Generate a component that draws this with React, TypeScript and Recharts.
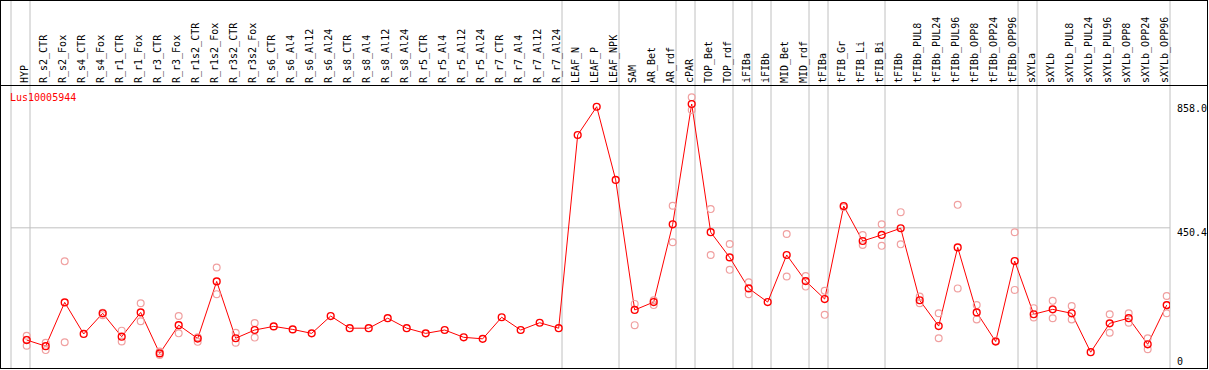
import React from "react";
import {
  ComposedChart,
  Line,
  Scatter,
  XAxis,
  YAxis,
  ReferenceLine,
} from "recharts";

const TITLE = "Lus10005944";

const categories = [
  "HYP",
  "R_s2_CTR", "R_s2_Fox", "R_s4_CTR", "R_s4_Fox", "R_r1_CTR", "R_r1_Fox",
  "R_r3_CTR", "R_r3_Fox", "R_r1s2_CTR", "R_r1s2_Fox", "R_r3s2_CTR", "R_r3s2_Fox",
  "R_s6_CTR", "R_s6_Al4", "R_s6_Al12", "R_s6_Al24",
  "R_s8_CTR", "R_s8_Al4", "R_s8_Al12", "R_s8_Al24",
  "R_r5_CTR", "R_r5_Al4", "R_r5_Al12", "R_r5_Al24",
  "R_r7_CTR", "R_r7_Al4", "R_r7_Al12", "R_r7_Al24",
  "LEAF_N", "LEAF_P", "LEAF_NPK",
  "SAM", "AR_Bet", "AR_rdf",
  "cPAR",
  "TOP_Bet", "TOP_rdf",
  "iFIBa", "iFIBb",
  "MID_Bet", "MID_rdf",
  "tFIBa",
  "tFIB_Gr", "tFIB_Li", "tFIB_Bi",
  "tFIBb", "tFIBb_PUL8", "tFIBb_PUL24", "tFIBb_PUL96", "tFIBb_OPP8", "tFIBb_OPP24", "tFIBb_OPP96",
  "sXYLa",
  "sXYLb", "sXYLb_PUL8", "sXYLb_PUL24", "sXYLb_PUL96", "sXYLb_OPP8", "sXYLb_OPP24", "sXYLb_OPP96",
];

// mean expression per sample
const means = [
  81, 61, 205, 101, 169, 92, 172, 37, 130, 86, 274, 87, 114,
  126, 116, 103, 160, 120, 120, 153, 120, 103, 114, 90, 85, 156, 114, 138, 120,
  756, 849, 608,
  180, 206, 462,
  858,
  436, 353,
  251, 206,
  361, 275,
  216,
  522, 407, 427,
  449, 212, 127, 386, 172, 76, 341,
  166,
  182, 169, 41, 136, 153, 67, 196,
];

// individual replicates
const replicates = [
  [95, 82, 62],
  [72, 48], [340, 74], [], [171, 163], [112, 76], [202, 143],
  [43, 32], [160, 103], [90, 75], [320, 232], [105, 72], [137, 89],
  [], [], [], [],
  [], [], [], [],
  [], [], [], [],
  [], [], [], [],
  [], [], [],
  [200, 130], [196, 212], [523, 403],
  [880, 838],
  [512, 361], [397, 312],
  [271, 232], [],
  [430, 290], [292, 257],
  [243, 164],
  [518], [427, 394], [462, 391],
  [502, 396], [224, 202], [169, 87], [526, 251], [196, 149], [78], [436, 246],
  [186, 155],
  [210, 153], [193, 149], [], [166, 105], [169, 138], [87, 51], [226, 169],
];

// last sample index of each tissue group
const groupEnds = [0, 28, 31, 34, 35, 37, 38, 39, 41, 42, 45, 52, 53, 60];

const yTicks = [0, 450.4, 858];
const refLevel = 450.4;

const POINT_POS = 0.826; // point sits toward the right of its column
const FONT = '"DejaVu Sans Mono", monospace';

const lineData = means.map((v, i) => ({ x: i + POINT_POS, y: v }));
const repData = replicates.flatMap((vals, i) =>
  vals.map((v) => ({ x: i + POINT_POS, y: v }))
);
const boundaries = [0, ...groupEnds.map((e) => e + 1)];

const HeaderTick = (props: any) => {
  const { x, index } = props;
  const tx = x + 1;
  const ty = 83;
  return (
    <text
      x={tx}
      y={ty}
      transform={`rotate(-90, ${tx}, ${ty})`}
      textAnchor="start"
      fontFamily={FONT}
      fontSize={10}
      fill="#000"
    >
      {categories[index]}
    </text>
  );
};

const ValueTick = (props: any) => {
  const { x, y, payload } = props;
  const v = payload.value;
  return (
    <text
      x={x}
      y={Math.min(y + 8, 365)}
      textAnchor="start"
      fontFamily={FONT}
      fontSize={10}
      fill="#000"
    >
      {v === 0 ? "0" : v.toFixed(1)}
    </text>
  );
};

const RepDot = (props: any) => (
  <circle cx={props.cx} cy={props.cy} r={3.4} fill="none" stroke="#f0a0a0" strokeWidth={1.2} />
);

export default function App() {
  return (
    <div style={{ position: "absolute", left: 0, top: 0, width: 1208, height: 369, background: "#fff" }}>
      <ComposedChart
        width={1208}
        height={369}
        margin={{ top: 0, right: 1, bottom: 1, left: 11 }}
      >
        <XAxis
          type="number"
          dataKey="x"
          orientation="top"
          height={1}
          domain={[0, 61]}
          allowDataOverflow
          ticks={categories.map((_, i) => i + POINT_POS)}
          interval={0}
          axisLine={false}
          tickLine={false}
          tick={<HeaderTick />}
        />
        <YAxis
          type="number"
          dataKey="y"
          orientation="right"
          width={37}
          domain={[-11, 1197]}
          allowDataOverflow
          ticks={yTicks}
          interval={0}
          axisLine={false}
          tickLine={false}
          tickSize={0}
          tickMargin={7}
          tick={<ValueTick />}
        />
        {boundaries.map((b) => (
          <ReferenceLine key={b} x={b} stroke="#c0c0c0" strokeWidth={1} />
        ))}
        <ReferenceLine y={refLevel} stroke="#c0c0c0" strokeWidth={1} />
        <Scatter data={repData} dataKey="y" shape={<RepDot />} isAnimationActive={false} />
        <Line
          data={lineData}
          dataKey="y"
          type="linear"
          stroke="#ff0000"
          strokeWidth={1}
          dot={{ r: 3.4, stroke: "#ff0000", strokeWidth: 1.4, fill: "none" }}
          activeDot={false}
          isAnimationActive={false}
        />
      </ComposedChart>
      <div
        style={{
          position: "absolute",
          left: 0,
          top: 85,
          width: 1208,
          height: 1,
          background: "#000",
        }}
      />
      <div
        style={{
          position: "absolute",
          left: 10,
          top: 93,
          fontFamily: FONT,
          fontSize: 10,
          lineHeight: "10px",
          color: "#ff0000",
        }}
      >
        {TITLE}
      </div>
      <div
        style={{
          position: "absolute",
          left: 0,
          top: 0,
          width: 1208,
          height: 369,
          boxSizing: "border-box",
          border: "1px solid #000",
          pointerEvents: "none",
        }}
      />
    </div>
  );
}
